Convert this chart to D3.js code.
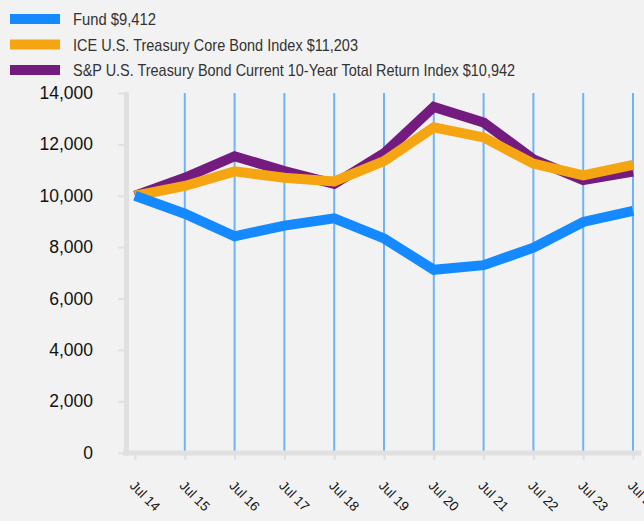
<!DOCTYPE html>
<html><head><meta charset="utf-8">
<script src="https://cdn.jsdelivr.net/npm/d3@7"></script>
<style>html,body{margin:0;padding:0;background:#f2f2f2;}svg{display:block;}</style>
</head><body>
<svg id="c" width="644" height="521"></svg>
<script>
const categories = ["Jul 14","Jul 15","Jul 16","Jul 17","Jul 18","Jul 19","Jul 20","Jul 21","Jul 22","Jul 23","Jul 24"];
const fund = [10000, 9300, 8420, 8840, 9120, 8340, 7120, 7300, 7980, 8980, 9412];
const iceIndex = [10000, 10380, 10950, 10700, 10560, 11350, 12660, 12270, 11250, 10790, 11203];
const spIndex = [10000, 10700, 11540, 10960, 10460, 11650, 13460, 12850, 11420, 10610, 10942];
const seriesNames = ["Fund $9,412", "ICE U.S. Treasury Core Bond Index $11,203", "S&P U.S. Treasury Bond Current 10-Year Total Return Index $10,942"];
const seriesColors = ["#1589ff", "#f4a511", "#741b7f"];
const yTicks = [0, 2000, 4000, 6000, 8000, 10000, 12000, 14000];

const svg = d3.select("#c");
const x = d3.scalePoint().domain(categories).range([135, 633]);
const y = d3.scaleLinear().domain([0, 14000]).range([452.7, 93]);

// gridlines
svg.append("g").selectAll("line").data(categories.slice(1)).join("line")
  .attr("x1", d => x(d)).attr("x2", d => x(d))
  .attr("y1", y(14000)).attr("y2", y(0))
  .attr("stroke", "#6db3f9").attr("stroke-width", 2);

// y axis
const yAxis = svg.append("g").attr("transform", "translate(124,0)")
  .call(d3.axisLeft(y).tickValues(yTicks).tickSize(6).tickPadding(25).tickFormat(d3.format(",")));
yAxis.select(".domain").remove();
yAxis.selectAll(".tick line").attr("stroke", "#e0e0e0").attr("stroke-width", 2);
yAxis.selectAll(".tick text").attr("fill", "#111").attr("font-size", 17.5)
  .attr("font-family", "Liberation Sans, Arial, sans-serif");
svg.append("line").attr("x1", 126.5).attr("x2", 126.5).attr("y1", 92).attr("y2", 455.5)
  .attr("stroke", "#e0e0e0").attr("stroke-width", 5);

// x axis
const xAxis = svg.append("g").attr("transform", "translate(0,455)")
  .call(d3.axisBottom(x).tickSize(5).tickPadding(0));
xAxis.select(".domain").remove();
xAxis.selectAll(".tick line").attr("stroke", "#e0e0e0").attr("stroke-width", 2);
xAxis.selectAll(".tick text").attr("fill", "#111").attr("font-size", 13.5)
  .attr("font-family", "Liberation Sans, Arial, sans-serif")
  .attr("text-anchor", "start").attr("dy", 0)
  .attr("transform", "translate(-3,28) rotate(45)");
svg.append("line").attr("x1", 123).attr("x2", 641).attr("y1", 453).attr("y2", 453)
  .attr("stroke", "#e0e0e0").attr("stroke-width", 5);

// lines
const line = d3.line().x((d, i) => x(categories[i])).y(d => y(d));
const drawOrder = [[spIndex, 2], [iceIndex, 1], [fund, 0]];
drawOrder.forEach(([vals, k]) => {
  svg.append("path").datum(vals).attr("d", line)
    .attr("fill", "none").attr("stroke", seriesColors[k]).attr("stroke-width", 10)
    .attr("stroke-linejoin", "miter");
});

// legend
const legendLens = [83, 285, 442];
const lg = svg.append("g").selectAll("g").data(seriesNames).join("g")
  .attr("transform", (d, i) => `translate(10,${19 + i * 25.5})`);
lg.append("rect").attr("x", 0).attr("y", -5).attr("width", 50).attr("height", 10)
  .attr("fill", (d, i) => seriesColors[i]);
lg.append("text").attr("x", 63).attr("y", 0).attr("dy", "0.36em")
  .attr("font-size", 17).attr("fill", "#333")
  .attr("font-family", "Liberation Sans, Arial, sans-serif")
  .attr("textLength", (d, i) => legendLens[i]).attr("lengthAdjust", "spacingAndGlyphs")
  .text(d => d);
</script>
</body></html>
